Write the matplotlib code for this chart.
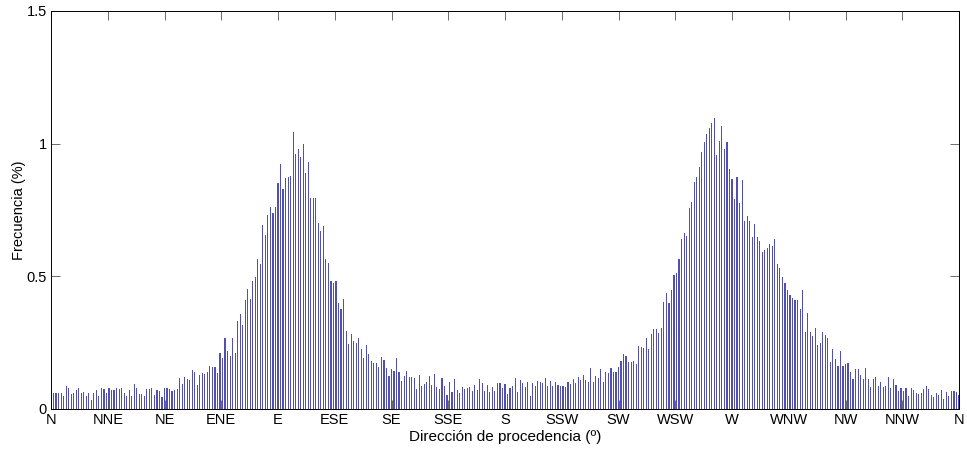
import numpy as np
import matplotlib
matplotlib.use("Agg")
import matplotlib.pyplot as plt

# Frequency (%) per degree of origin direction, degrees 1..360
freq_n_to_e = [0.06, 0.06, 0.06, 0.06, 0.05, 0.087, 0.08, 0.055, 0.06, 0.07,
               0.08, 0.06, 0.065, 0.05, 0.06, 0.035, 0.06, 0.07, 0.05, 0.08,
               0.075, 0.06, 0.08, 0.07, 0.07, 0.08, 0.075, 0.078,
               0.059, 0.05, 0.072, 0.049, 0.094, 0.078, 0.057, 0.057, 0.049, 0.077,
               0.077, 0.078, 0.053, 0.072, 0.069, 0.046, 0.078, 0.078, 0.074, 0.069,
               0.072, 0.075, 0.116, 0.094, 0.119, 0.112, 0.109, 0.147, 0.138, 0.09,
               0.128,
               0.134, 0.132, 0.141, 0.163, 0.16, 0.16, 0.137, 0.212, 0.191, 0.266,
               0.219, 0.2, 0.269, 0.21, 0.333, 0.358, 0.317, 0.411, 0.451, 0.415,
               0.484, 0.496, 0.565, 0.546, 0.693, 0.656,
               0.73, 0.76, 0.74, 0.763, 0.851]
freq_e_to_s = [0.923, 0.829, 0.869, 0.876, 0.879, 1.044, 0.961, 0.979, 0.951, 0.999,
               0.891, 0.93, 0.794, 0.796, 0.794, 0.7, 0.671, 0.69, 0.564, 0.549,
               0.484, 0.476, 0.481, 0.398, 0.377, 0.415, 0.293, 0.245, 0.281, 0.256,
               0.247, 0.266, 0.226, 0.192, 0.24, 0.207, 0.182, 0.175, 0.172, 0.16,
               0.197, 0.185, 0.153, 0.124, 0.149, 0.144, 0.191, 0.139, 0.104, 0.124,
               0.144, 0.122, 0.122, 0.115, 0.075, 0.128, 0.087, 0.094, 0.103, 0.123,
               0.091, 0.132, 0.082, 0.077, 0.116, 0.087, 0.053, 0.102, 0.063, 0.113,
               0.072, 0.062, 0.084, 0.075, 0.078, 0.082, 0.069, 0.09, 0.073, 0.113,
               0.098, 0.068, 0.089, 0.063, 0.083, 0.067, 0.098, 0.098, 0.078, 0.093]
freq_s_to_w = [0.057, 0.078, 0.088, 0.116, 0.063, 0.109, 0.097, 0.082, 0.1, 0.049,
               0.097, 0.088, 0.105, 0.1, 0.097, 0.116, 0.088, 0.107, 0.088, 0.103,
               0.091, 0.088, 0.088, 0.084, 0.103, 0.094, 0.112, 0.097, 0.119, 0.109,
               0.128, 0.109, 0.1, 0.155, 0.1, 0.124, 0.117, 0.151, 0.102, 0.141,
               0.137, 0.153, 0.141, 0.141, 0.16, 0.182, 0.206, 0.2, 0.177, 0.179,
               0.181, 0.17, 0.237, 0.235, 0.229, 0.266, 0.228, 0.281, 0.302, 0.302,
               0.285, 0.304, 0.402, 0.437, 0.399, 0.447, 0.505, 0.512, 0.564, 0.64,
               0.662, 0.652, 0.759, 0.781, 0.854, 0.876, 0.911, 0.967, 1.008, 1.036,
               1.06, 1.077, 1.098, 0.957, 1.011, 1.067, 0.98, 1.005, 0.905, 0.867]
freq_w_to_n = [0.792, 0.873, 0.775, 0.863, 0.708, 0.728, 0.707, 0.649, 0.697, 0.649,
               0.633, 0.593, 0.601, 0.605, 0.62, 0.615, 0.64, 0.545, 0.533, 0.496,
               0.475, 0.448, 0.429, 0.42, 0.41, 0.412, 0.377, 0.448, 0.291, 0.36,
               0.289, 0.277, 0.305, 0.241, 0.25, 0.29, 0.279, 0.268, 0.178, 0.227,
               0.188, 0.162, 0.218, 0.162, 0.171, 0.174, 0.139, 0.114, 0.151, 0.151,
               0.128, 0.114, 0.155, 0.112, 0.083, 0.113, 0.12, 0.086, 0.102, 0.084,
               0.088, 0.122, 0.078, 0.113, 0.09, 0.069, 0.08, 0.068, 0.078, 0.049,
               0.078, 0.072, 0.059, 0.057, 0.062, 0.074, 0.087, 0.074, 0.053, 0.047,
               0.059, 0.053, 0.072, 0.036, 0.065, 0.05, 0.068, 0.068, 0.063, 0.053]

frequency = freq_n_to_e + freq_e_to_s + freq_s_to_w + freq_w_to_n
directions = np.arange(1, len(frequency) + 1)

tick_labels = ['N', 'NNE', 'NE', 'ENE', 'E', 'ESE', 'SE', 'SSE', 'S',
               'SSW', 'SW', 'WSW', 'W', 'WNW', 'NW', 'NNW', 'N']
tick_degrees = np.linspace(0, 360, len(tick_labels))
y_ticks = [0, 0.5, 1, 1.5]
y_tick_labels = ['0', '0.5', '1', '1.5']

plt.rcParams['font.family'] = ['Liberation Sans', 'DejaVu Sans']

fig = plt.figure(figsize=(9.67, 4.5), dpi=100)
ax = fig.add_axes([51 / 967, 41 / 450, 908 / 967, 398 / 450])
ax.bar(directions, frequency, width=0.45, color='#4f4fb4', edgecolor='none')

ax.set_xlim(0, 360)
ax.set_ylim(0, 1.5)
ax.set_xticks(tick_degrees)
ax.set_xticklabels(tick_labels)
ax.set_yticks(y_ticks)
ax.set_yticklabels(y_tick_labels)
ax.tick_params(direction='in', length=6.5, width=0.6, color='#555555',
               top=True, right=True, labelsize=10.5, pad=3)
for s in ax.spines.values():
    s.set_linewidth(0.7)
    s.set_color('black')

ax.set_xlabel('Dirección de procedencia (º)', fontsize=11, labelpad=2)
ax.set_ylabel('Frecuencia (%)', fontsize=10.5, labelpad=0)

fig.savefig('out.png', dpi=100)
